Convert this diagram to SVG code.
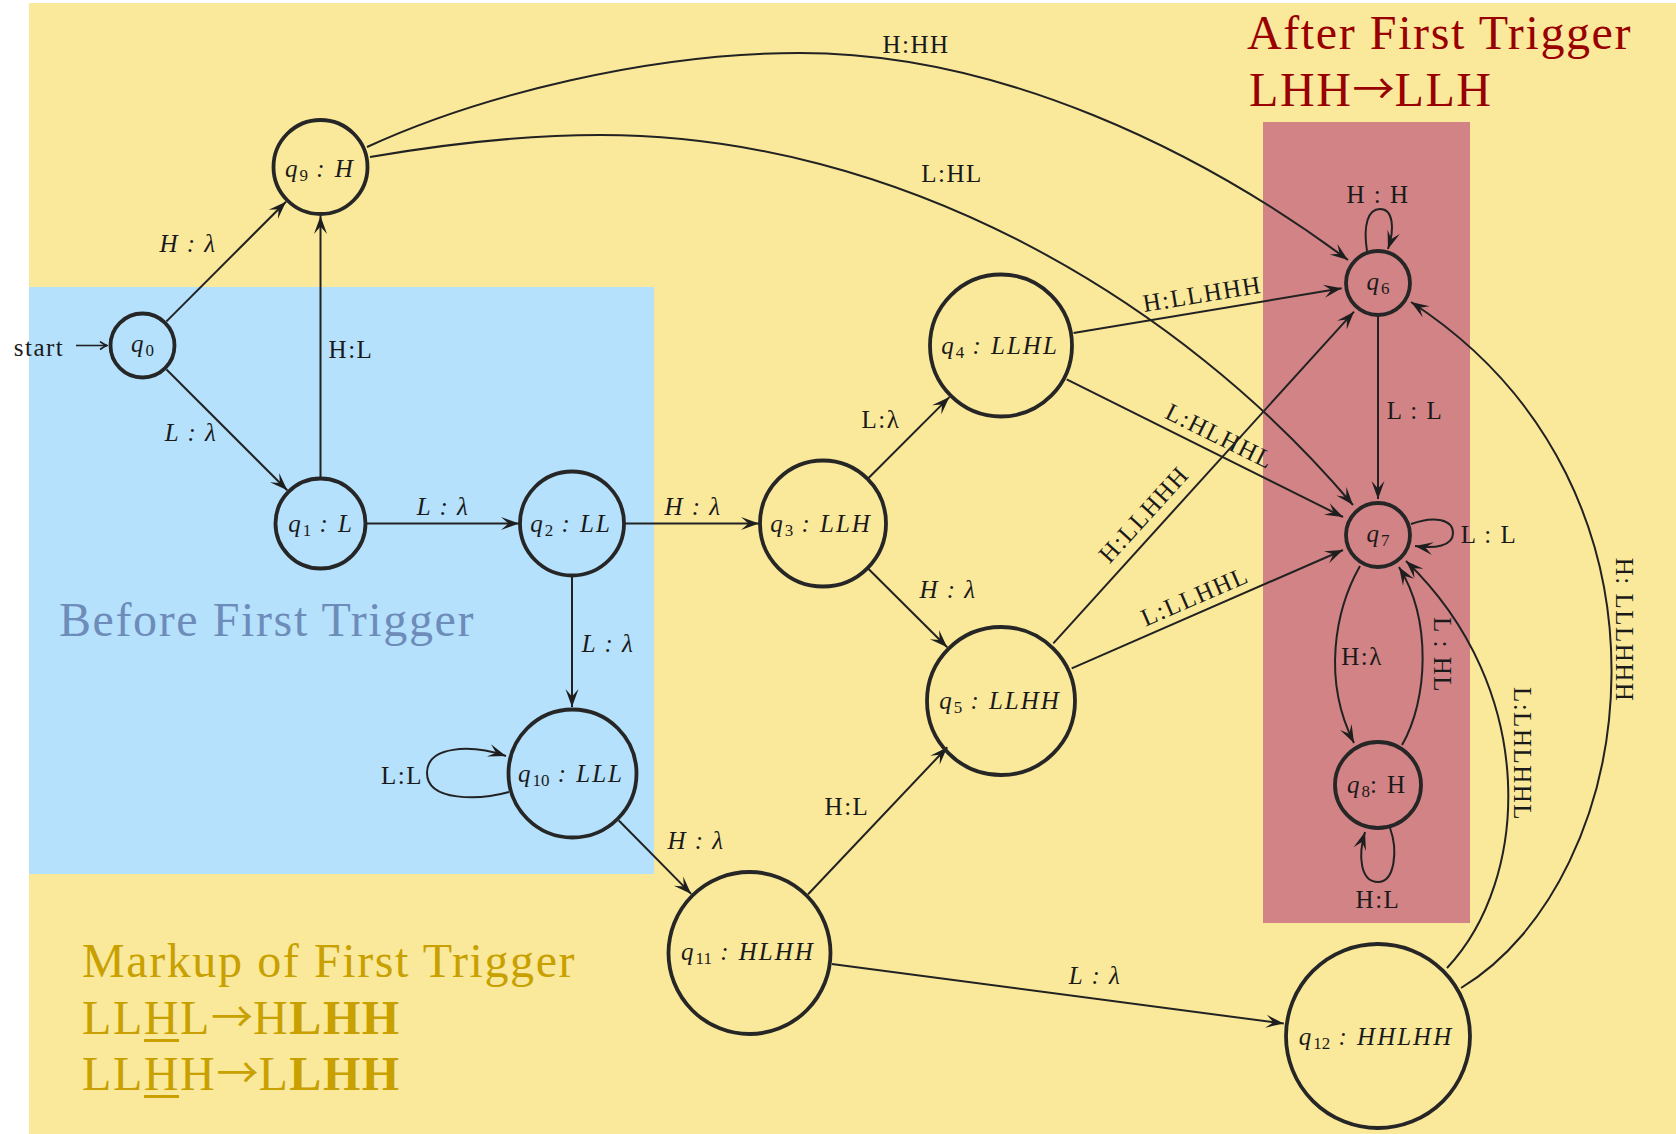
<svg xmlns="http://www.w3.org/2000/svg" width="1676" height="1134" viewBox="0 0 1676 1134">
  <defs>
    <style>
      .lbl { font-family: "Liberation Serif", "Times New Roman", serif; font-size: 25px; letter-spacing: 1.5px; fill: #1a1a1a; text-anchor: middle; }
      .m { font-style: italic; }
      .nl { font-family: "Liberation Serif", "Times New Roman", serif; font-size: 25px; font-style: italic; letter-spacing: 2px; fill: #1a1a1a; text-anchor: middle; }
      .sub { font-size: 17px; font-style: normal; letter-spacing: 0px; }
      .up { font-style: normal; }
      .st { fill: none; stroke: #262626; stroke-width: 3.8; }
      .e { fill: none; stroke: #222; stroke-width: 2; marker-end: url(#ah); }
      .title { font-family: "Liberation Serif", "Times New Roman", serif; font-size: 48px; letter-spacing: 1.6px; }
      .arw { font-family: "Noto Sans CJK JP", "DejaVu Sans", sans-serif; font-size: 42px; font-weight: normal; letter-spacing: 0px; }
    </style>
    <marker id="ah" viewBox="-19 -8 20 16" refX="0" refY="0" markerWidth="20" markerHeight="16" markerUnits="userSpaceOnUse" orient="auto">
      <path d="M0,0 L-18,-6.5 L-10.5,0 L-18,6.5 Z" fill="#1e1e1e"/>
    </marker>
    <marker id="ahs" viewBox="-9 -5 10 10" refX="0" refY="0" markerWidth="10" markerHeight="10" markerUnits="userSpaceOnUse" orient="auto">
      <path d="M-7,-4 Q-3,-1 0,0 Q-3,1 -7,4" fill="none" stroke="#1e1e1e" stroke-width="1.6"/>
    </marker>
  </defs>

  <!-- background panels -->
  <rect x="0" y="0" width="1676" height="1134" fill="#ffffff"/>
  <rect x="29" y="3" width="1647" height="1131" fill="#FAE99B"/>
  <rect x="29" y="287" width="625" height="587" fill="#B5E1FC"/>
  <rect x="1263" y="122" width="207" height="801" fill="#D18385"/>

  <!-- section headings -->
  <g id="headings">
    <text class="title" x="1247" y="49" fill="#990000">After First Trigger</text>
    <text class="title" x="1249" y="106" fill="#990000">LHH<tspan class="arw" dy="-2">→</tspan><tspan dy="2">LLH</tspan></text>
    <text class="title" x="59" y="636" fill="#6E8CB9">Before First Trigger</text>
    <text class="title" x="82" y="977" fill="#C8A000">Markup of First Trigger</text>
    <text class="title" x="82" y="1034" fill="#C8A000">LLHL<tspan class="arw" dy="-2">→</tspan><tspan dy="2">H</tspan><tspan font-weight="bold">LHH</tspan></text>
    <text class="title" x="82" y="1090" fill="#C8A000">LLHH<tspan class="arw" dy="-2">→</tspan><tspan dy="2">L</tspan><tspan font-weight="bold">LHH</tspan></text>
    <rect x="144" y="1039" width="35" height="3" fill="#C8A000"/>
    <rect x="144" y="1095" width="35" height="3" fill="#C8A000"/>
  </g>

  <!-- transitions -->
  <g id="connectors">
    <text class="lbl" x="39" y="356">start</text>
    <path d="M76,345.5 H107" fill="none" stroke="#222" stroke-width="1.6" marker-end="url(#ahs)"/>

    <path class="e" d="M166.5,321.4 L286,201.7"/>
    <text class="lbl m" x="188" y="252">H : λ</text>

    <path class="e" d="M166.5,369.5 L287.3,490.3"/>
    <text class="lbl m" x="191" y="441">L : λ</text>

    <path class="e" d="M320.5,477 L320.5,216"/>
    <text class="lbl" x="351" y="358">H:L</text>

    <path class="e" d="M366,523.5 L519,523.5"/>
    <text class="lbl m" x="443" y="515">L : λ</text>

    <path class="e" d="M625,523.5 L759,523.5"/>
    <text class="lbl m" x="693" y="515">H : λ</text>

    <path class="e" d="M572,577 L572,707"/>
    <text class="lbl m" x="608" y="652">L : λ</text>

    <path class="e" d="M509,792 C480,800 427,802 427,773 C427,746 470,744 506,756"/>
    <text class="lbl" x="402" y="784">L:L</text>

    <path class="e" d="M618.8,820.5 L691.2,893.9"/>
    <text class="lbl m" x="696" y="849">H : λ</text>

    <path class="e" d="M868.3,478.3 L949.4,397.1"/>
    <text class="lbl" x="881" y="428">L:λ</text>

    <path class="e" d="M868.3,568.7 L947.2,647.3"/>
    <text class="lbl m" x="948" y="598">H : λ</text>

    <path class="e" d="M808.1,894.2 L947.3,747.2"/>
    <text class="lbl" x="847" y="815">H:L</text>

    <path class="e" d="M831.8,963.9 L1283.8,1023.6"/>
    <text class="lbl m" x="1095" y="984">L : λ</text>

    <path class="e" d="M367,147 C480,95 650,53 800,53 C1000,53 1200,150 1348,260"/>
    <text class="lbl" x="916" y="53">H:HH</text>

    <path class="e" d="M370,157 C440,145 520,135 600,135 C900,135 1180,300 1353,505"/>
    <text class="lbl" x="952" y="182">L:HL</text>

    <path class="e" d="M1073.5,333 L1341.7,288.3"/>
    <text class="lbl" transform="translate(1203.5,302.3) rotate(-9.4)">H:LLHHH</text>

    <path class="e" d="M1066.7,379.3 L1343,517"/>
    <text class="lbl" transform="translate(1216,443.6) rotate(26.5)">L:HLHHL</text>

    <path class="e" d="M1053.3,643.3 L1354,311.7"/>
    <text class="lbl" transform="translate(1150,520) rotate(-47.8)">H:LLHHH</text>

    <path class="e" d="M1071.7,668.3 L1343,550"/>
    <text class="lbl" transform="translate(1198,604) rotate(-23.4)">L:LLHHL</text>

    <path class="e" d="M1367,251 C1363,225 1368,209 1380,209 C1393,209 1395,228 1388,249"/>
    <text class="lbl" x="1378" y="203">H : H</text>

    <path class="e" d="M1378,316 L1378,499"/>
    <text class="lbl" x="1415" y="419">L : L</text>

    <path class="e" d="M1411,524 C1435,515 1453,520 1453,533 C1453,546 1435,549 1415,546"/>
    <text class="lbl" x="1489" y="543">L : L</text>

    <path class="e" d="M1360,566 C1335,610 1322,680 1354,743"/>
    <text class="lbl" x="1362" y="665">H:λ</text>

    <path class="e" d="M1402,745 C1428,700 1432,620 1399,567"/>
    <text class="lbl" transform="translate(1434,655) rotate(90)">L : HL</text>

    <path class="e" d="M1390,828 C1398,850 1395,882 1378,882 C1360,882 1358,855 1365,832"/>
    <text class="lbl" x="1378" y="908">H:L</text>

    <path class="e" d="M1447,968 C1530,880 1540,690 1406,561"/>
    <text class="lbl" transform="translate(1514,754) rotate(90)">L:LHLHHL</text>

    <path class="e" d="M1461,988 C1640,880 1700,490 1411,302"/>
    <text class="lbl" transform="translate(1616,630) rotate(90)">H: LLLHHH</text>
  </g>

  <!-- states -->
  <g id="q0">
    <circle class="st" cx="142.5" cy="345.5" r="32"/>
    <text class="nl" x="142.5" y="352">q<tspan class="sub" dy="4">0</tspan></text>
  </g>
  <g id="q9">
    <circle class="st" cx="320.5" cy="167" r="47"/>
    <text class="nl" x="320" y="177">q<tspan class="sub" dy="4">9</tspan><tspan dy="-4"> : H</tspan></text>
  </g>
  <g id="q1">
    <circle class="st" cx="320.5" cy="523.5" r="45"/>
    <text class="nl" x="321" y="532">q<tspan class="sub" dy="4">1</tspan><tspan dy="-4"> : L</tspan></text>
  </g>
  <g id="q2">
    <circle class="st" cx="572" cy="523.5" r="52"/>
    <text class="nl" x="571" y="532">q<tspan class="sub" dy="4">2</tspan><tspan dy="-4"> : LL</tspan></text>
  </g>
  <g id="q10">
    <circle class="st" cx="572.5" cy="773.5" r="64"/>
    <text class="nl" x="571" y="782">q<tspan class="sub" dy="4">10</tspan><tspan dy="-4"> : LLL</tspan></text>
  </g>
  <g id="q3">
    <circle class="st" cx="823" cy="523.5" r="63"/>
    <text class="nl" x="821" y="532">q<tspan class="sub" dy="4">3</tspan><tspan dy="-4"> : LLH</tspan></text>
  </g>
  <g id="q4">
    <circle class="st" cx="1001" cy="345.5" r="71"/>
    <text class="nl" x="1000" y="354">q<tspan class="sub" dy="4">4</tspan><tspan dy="-4"> : LLHL</tspan></text>
  </g>
  <g id="q5">
    <circle class="st" cx="1001" cy="701" r="74"/>
    <text class="nl" x="1000" y="709">q<tspan class="sub" dy="4">5</tspan><tspan dy="-4"> : LLHH</tspan></text>
  </g>
  <g id="q11">
    <circle class="st" cx="749.5" cy="953" r="81"/>
    <text class="nl" x="748" y="960">q<tspan class="sub" dy="4">11</tspan><tspan dy="-4"> : HLHH</tspan></text>
  </g>
  <g id="q6">
    <circle class="st" cx="1378" cy="283" r="32"/>
    <text class="nl" x="1378" y="290">q<tspan class="sub" dy="4">6</tspan></text>
  </g>
  <g id="q7">
    <circle class="st" cx="1378" cy="535" r="32"/>
    <text class="nl" x="1378" y="542">q<tspan class="sub" dy="4">7</tspan></text>
  </g>
  <g id="q8">
    <circle class="st" cx="1378" cy="785" r="43"/>
    <text class="nl" x="1377" y="793">q<tspan class="sub" dy="4">8</tspan><tspan class="up" dy="-4">:</tspan><tspan class="up" dx="8">H</tspan></text>
  </g>
  <g id="q12">
    <circle class="st" cx="1378" cy="1036" r="92"/>
    <text class="nl" x="1376" y="1045">q<tspan class="sub" dy="4">12</tspan><tspan dy="-4"> : HHLHH</tspan></text>
  </g>
</svg>
